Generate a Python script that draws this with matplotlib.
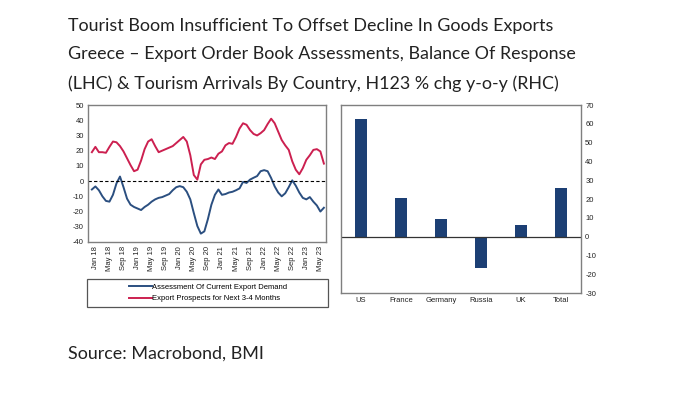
import matplotlib
matplotlib.use("Agg")
import matplotlib.pyplot as plt
from matplotlib.patches import Rectangle

# ---- data ----
months = ["Dec 17"] + [f"{m} {y}" for y in range(18, 24) for m in
          ["Jan", "Feb", "Mar", "Apr", "May", "Jun", "Jul", "Aug", "Sep", "Oct", "Nov", "Dec"]]
months = months[:67]  # Dec 17 .. Jun 23

export_demand = [-5.5, -3.5, -6, -10, -13, -13.5, -9, -1.5, 3, -4, -11.5, -15.5, -17, -18,
                 -19, -17, -15.5, -13.5, -12, -11, -10.5, -9.5, -8.5, -6, -4, -3.3, -4, -7,
                 -12, -21, -29.5, -34.5, -33, -25, -15.5, -9, -5.5, -9, -8.5, -7.5, -7, -6,
                 -4.8, -0.5, -1.2, 1, 2.2, 3.3, 6.5, 7.2, 6.5, 2, -3.5, -7.5, -10, -8, -4,
                 0.5, -3, -7.5, -11, -12, -10.5, -13.5, -16, -20, -17.5]
export_prospects = [19, 22.5, 19, 19, 18.6, 22.5, 26, 25.5, 23, 19.5, 15, 10.5, 6.5, 7.5,
                    13.5, 21, 26, 27.5, 23, 19, 20, 21, 22, 23, 25, 27, 29, 26, 17, 4, 1,
                    11, 14, 14.5, 15.5, 14.5, 18, 19.5, 23.5, 25, 24.5, 29, 34.5, 38, 37,
                    33.5, 31, 30, 31.5, 33.5, 37.5, 41, 38, 32.5, 27, 23.5, 20.5, 13, 7.5,
                    4.5, 8.5, 14, 17, 20.5, 21, 19.5, 11.5]

countries = ["US", "France", "Germany", "Russia", "UK", "Total"]
arrivals_chg = [62.5, 20.5, 9.5, -16.5, 6, 26]

left_yticks = [50, 40, 30, 20, 10, 0, -10, -20, -30, -40]
right_yticks = [70, 60, 50, 40, 30, 20, 10, 0, -10, -20, -30]

title_lines = ["Tourist Boom Insufficient To Offset Decline In Goods Exports",
               "Greece \u2013 Export Order Book Assessments, Balance Of Response",
               "(LHC) & Tourism Arrivals By Country, H123 % chg y-o-y (RHC)"]
source = "Source: Macrobond, BMI"

# ---- styles ----
BLUE = "#2B4F80"
RED = "#CC2050"
BAR = "#1C3F74"
SPINE = "#7f7f7f"
TICKFONT = "Liberation Sans"
W, H = 700, 397

fig = plt.figure(figsize=(7.0, 3.97), dpi=100)

def fx(x):
    return x / W

def fy(y):
    return 1 - y / H

# titles
for i, t in enumerate(title_lines):
    fig.text(fx(68), fy(25.5 + i * 29.0), t, family="Lato", fontsize=12.9,
             color="#222222", va="center", ha="left")
fig.text(fx(68), fy(354), source, family="Lato", fontsize=12.9, color="#222222",
         va="center", ha="left")

# ---- left chart ----
axL = fig.add_axes([fx(88), fy(242), fx(326) - fx(88), (242 - 105) / H])
xs = list(range(len(months)))
lb, = axL.plot(xs, export_demand, color=BLUE, lw=1.4)
lr, = axL.plot(xs, export_prospects, color=RED, lw=1.4)
axL.axhline(0, color="black", lw=0.8, ls=(0, (3, 2)))
axL.set_ylim(-40, 50)
axL.set_xlim(-1.1, 66.6)
axL.set_yticks(left_yticks)
axL.set_yticklabels([str(v) for v in left_yticks], family=TICKFONT, fontsize=5.5, color="#222222")
tick_pos = [i for i, m in enumerate(months) if m.split()[0] in ("Jan", "May", "Sep") and i <= 65]
axL.set_xticks(tick_pos)
axL.set_xticklabels([months[i] for i in tick_pos], rotation=90, family=TICKFONT,
                    fontsize=5.5, color="#222222")
axL.tick_params(length=0, pad=3)
for s in axL.spines.values():
    s.set_color(SPINE)
    s.set_linewidth(1.0)

# legend box
fig.patches.append(Rectangle((fx(87), fy(307)), fx(328) - fx(87), (307 - 279) / H,
                             transform=fig.transFigure, fill=False, ec="#555555", lw=0.9))
fig.legend([lb, lr], ["Assessment Of Current Export Demand", "Export Prospects for Next 3-4 Months"],
           loc="center", bbox_to_anchor=(fx(208), fy(293)), frameon=False,
           prop={"family": TICKFONT, "size": 5.5}, handlelength=3.0, handletextpad=0.1,
           labelspacing=0.55, borderpad=0)

# ---- right chart ----
axR = fig.add_axes([fx(341), fy(293), fx(581) - fx(341), (293 - 105) / H])
axR.bar(range(len(countries)), arrivals_chg, width=0.32, color=BAR)
axR.axhline(0, color="#333333", lw=0.9)
axR.set_xlim(-0.5, 5.5)
axR.set_ylim(-30, 70)
axR.yaxis.tick_right()
axR.set_yticks(right_yticks)
axR.set_yticklabels([str(v) for v in right_yticks], family=TICKFONT, fontsize=5.5, color="#222222")
axR.set_xticks(range(len(countries)))
axR.set_xticklabels(countries, family=TICKFONT, fontsize=5.5, color="#222222")
axR.tick_params(length=0, pad=3)
for s in axR.spines.values():
    s.set_color(SPINE)
    s.set_linewidth(1.0)

fig.savefig("out.png", dpi=100, facecolor="white")
